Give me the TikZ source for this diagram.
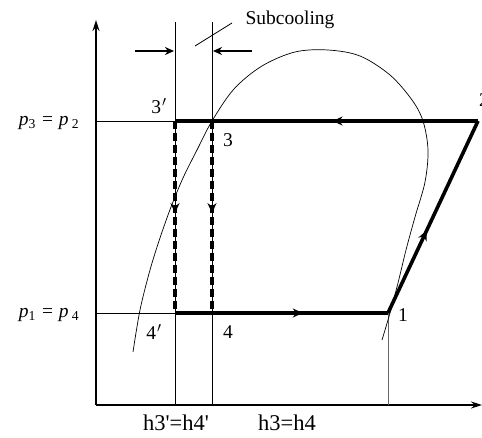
\documentclass[tikz,border=0pt]{standalone}
\usepackage{fontspec}
\setmainfont{Liberation Serif}
\newcommand{\sq}{\XeTeXglyph\XeTeXcharglyph"0027\relax}
\usetikzlibrary{arrows.meta,decorations.markings}
\begin{document}
\begin{tikzpicture}[x=1pt,y=-1pt,
  thinl/.style={line width=0.8pt},
  axisl/.style={line width=1.3pt,-{Stealth[length=11pt,width=7pt]}},
  thickl/.style={line width=3.6pt},
  dashl/.style={line width=3.6pt, dash pattern=on 8pt off 4pt},
  domel/.style={line width=0.7pt},
  lbl/.style={font=\fontsize{19.5}{19.5}\selectfont, inner sep=0pt},
  hlbl/.style={font=\fontsize{22.5}{22.5}\selectfont, inner sep=0pt},
  midarrow/.style={postaction={decorate,decoration={markings,mark=at position #1 with {\arrow{Stealth[length=10pt,width=9pt]}}}}}]
\useasboundingbox (0,0) rectangle (482,438);
% coordinates
\coordinate (O) at (96,405);
\coordinate (Ytip) at (96,20);
\coordinate (Xtip) at (482,405);
\coordinate (P3L) at (96,121);
\coordinate (P1L) at (96,313);
\coordinate (A3p) at (175,121);
\coordinate (A3) at (212,121);
\coordinate (P2) at (478,121);
\coordinate (B4p) at (175,313);
\coordinate (B4) at (212,313);
\coordinate (P1) at (388,313);
\coordinate (P1b) at (388,405);
\coordinate (V1t) at (175,22);
\coordinate (V1b) at (175,405);
\coordinate (V2t) at (212,22);
\coordinate (V2b) at (212,405);
\coordinate (SA1) at (135,51);
\coordinate (SA1e) at (174,51);
\coordinate (SA2) at (252,51);
\coordinate (SA2e) at (213,51);
\coordinate (LL1) at (195,46);
\coordinate (LL2) at (232,23);
% axes
\draw[axisl] (O) -- (Ytip);
\draw[axisl] (O) -- (Xtip);
% thin lines
\draw[thinl] (V1t) -- (V1b);
\draw[thinl] (V2t) -- (V2b);
\draw[thinl] (P3L) -- (A3p);
\draw[thinl] (P1L) -- (B4p);
\draw[line width=0.5pt, black!60] (P1) -- (P1b);
% dome
\draw[domel] plot[smooth, tension=0.55] coordinates {(133,352) (140,310) (150,270) (160,238) (171,207) (183,178) (197,150) (212,121) (234,89) (262,66) (295,52) (328,50) (360,56) (390,75) (412,100) (423,121) (428,150) (425,182) (415,217) (406,250) (398,283) (390,313) (382,340)};
% cycle
\draw[thickl, midarrow=0.48] (P2) -- (A3p);
\draw[thickl, midarrow=0.60] (B4p) -- (P1);
\draw[thickl, midarrow=0.43] (P1) -- (P2);
\draw[dashl, midarrow=0.48] (A3p) -- (B4p);
\draw[dashl, midarrow=0.48] (A3) -- (B4);
% subcooling
\draw[line width=2.2pt,-{Stealth[length=9pt,width=8pt]}] (SA1) -- (SA1e);
\draw[line width=2.2pt,-{Stealth[length=9pt,width=8pt]}] (SA2) -- (SA2e);
\draw[thinl] (LL1) -- (LL2);
\node[lbl, anchor=base] (sub) at (290,25) {Subcooling};
% labels
\node[lbl] (l3p) at (159,106) {3\kern1pt$'$};
\node[lbl] (l3) at (228,140) {3};
\node[lbl] (l4p) at (154,332) {4\kern1pt$'$};
\node[lbl] (l4) at (228,332) {4};
\node[lbl] (l1) at (403,315) {1};
\node[lbl, anchor=west] (l2) at (479,100) {2};
\node[lbl] (lp3) at (49,123) {\itshape p\textsubscript{\upshape 3} = \itshape p\,\textsubscript{\upshape 2}};
\node[lbl] (lp1) at (49,315) {\itshape p\textsubscript{\upshape 1} = \itshape p\,\textsubscript{\upshape 4}};
\node[hlbl] (lh1) at (176,423) {h3\sq=h4\sq};
\node[hlbl] (lh2) at (287,423) {h3=h4};
\end{tikzpicture}
\end{document}
